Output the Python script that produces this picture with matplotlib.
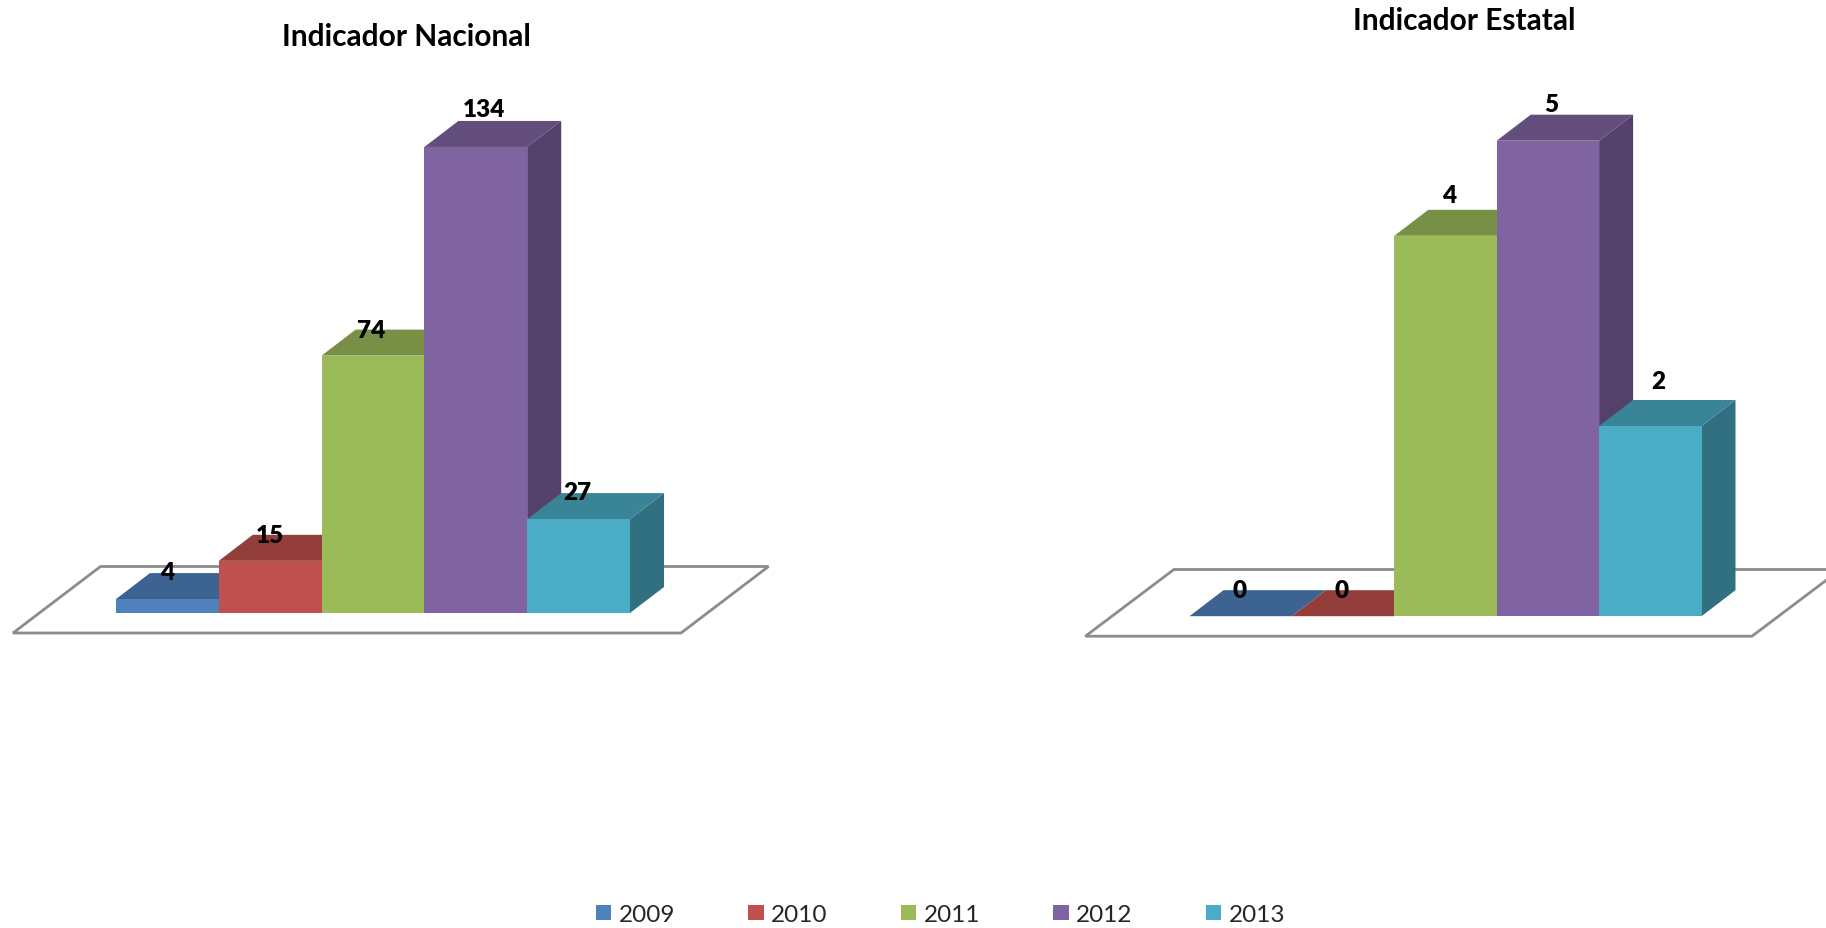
"""
Indicador Nacional / Estatal: barras 3D dibujadas a mano sobre ejes 2D.
"""
import matplotlib
matplotlib.use("Agg")
import matplotlib.pyplot as plt
from matplotlib.colors import to_rgb
from matplotlib.patches import Patch, Polygon

W, H = 1826, 929

years = ["2009", "2010", "2011", "2012", "2013"]
nacional = [4, 15, 74, 134, 27]
estatal = [0, 0, 4, 5, 2]
colors = ["#4F81BD", "#C0504D", "#9BBB59", "#8064A2", "#4BACC6"]

plt.rcParams["font.family"] = ["Lato", "DejaVu Sans"]


def shade(color, f):
    return tuple(c * f for c in to_rgb(color))


def draw_chart(fig, values, title, title_xy, box, first_edge, bar_w, base_y, unit,
               floor_left, floor_front, floor_back, floor_w, label_off):
    # box = (x0, x1, y1) en pixeles; el eje va desde arriba de la figura hasta y1
    x0, x1, y1 = box
    ax = fig.add_axes([x0 / W, 1 - y1 / H, (x1 - x0) / W, y1 / H])
    ax.set_xlim((x0 - first_edge) / bar_w - 0.5, (x1 - first_edge) / bar_w - 0.5)
    ax.set_ylim((base_y - y1) / unit, base_y / unit)
    ax.axis("off")

    # profundidad de la perspectiva, en unidades de datos
    dx = 34 / bar_w
    dy = 26 / unit

    # piso
    fx = lambda px: (px - first_edge) / bar_w - 0.5
    fy = lambda px: (base_y - px) / unit
    skew = floor_back[1]
    floor = [
        (fx(floor_left), fy(floor_front)),
        (fx(floor_left + floor_w), fy(floor_front)),
        (fx(floor_left + floor_w + skew), fy(floor_back[0])),
        (fx(floor_left + skew), fy(floor_back[0])),
    ]
    ax.add_patch(Polygon(floor, closed=True, facecolor="white", edgecolor="#8C8C8C",
                         linewidth=2.0, zorder=1))

    for i, v in enumerate(values):
        left, right = i - 0.5, i + 0.5
        z = 2 + i
        side = [(right, 0), (right + dx, dy), (right + dx, v + dy), (right, v)]
        top = [(left, v), (left + dx, v + dy), (right + dx, v + dy), (right, v)]
        if v > 0:
            ax.add_patch(Polygon(side, closed=True, facecolor=shade(colors[i], 0.65),
                                 edgecolor="none", zorder=z))
        ax.add_patch(Polygon(top, closed=True, facecolor=shade(colors[i], 0.77),
                             edgecolor="none", zorder=z))
        ax.bar(i, v, width=1, color=colors[i], linewidth=0, zorder=z)

    for i, v in enumerate(values):
        ox, oy = label_off[i]
        ax.annotate(str(v), xy=(i - 0.5, v + dy), xytext=(ox * 0.72, oy * 0.72),
                    textcoords="offset points", ha="center", va="center",
                    fontsize=17.5, fontweight="heavy", color="black", zorder=20)

    fig.text(title_xy[0] / W, 1 - title_xy[1] / H, title, ha="center", va="center",
             fontsize=21.5, fontweight="bold", color="black")


fig = plt.figure(figsize=(W / 100, H / 100), dpi=100, facecolor="white")

draw_chart(fig, nacional, "Indicador Nacional", (406, 37), (0, 800, 700),
           116, 102.8, 614, 3.478, 13, 634, (567.5, 87.5), 668,
           [(51, 1), (51, 0), (50, 0), (60, 12), (50, 1)])
draw_chart(fig, estatal, "Indicador Estatal", (1464, 21), (1000, 1826, 700),
           1189.5, 102.4, 617.2, 95.1, 1085.4, 637.2, (570.5, 88.5), 666.6,
           [(50, 0), (50, 0), (55, 15), (55, 11), (59, 19)])

handles = [Patch(facecolor=c, edgecolor="none") for c in colors]
fig.legend(handles, years, loc="center", bbox_to_anchor=(0.515, 1 - 915.5 / H), ncol=5,
           frameon=False, fontsize=17.5, labelcolor="#262626", handlelength=0.63,
           handleheight=0.6, handletextpad=0.3, columnspacing=3.02,
           borderaxespad=0, borderpad=0)

fig.savefig("out.png", dpi=100)
